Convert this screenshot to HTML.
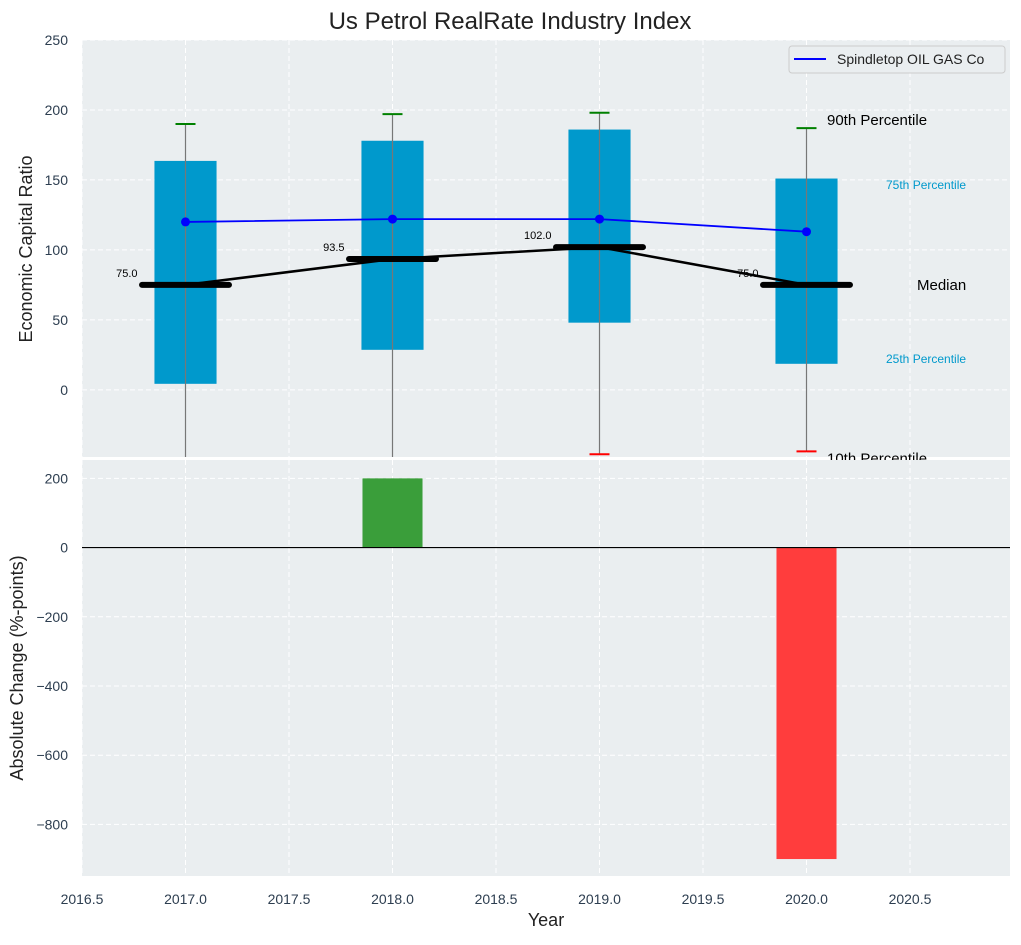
<!DOCTYPE html>
<html><head><meta charset="utf-8"><style>
body{margin:0;background:#fff;font-family:"Liberation Sans",Arial,sans-serif}
svg text{font-family:"Liberation Sans",Arial,sans-serif}
</style></head><body>
<svg id="chart" width="1021" height="940" xmlns="http://www.w3.org/2000/svg"></svg>
<script>
const years=[2017,2018,2019,2020];
const p10=[-60,-60,-46,-44];
const p25=[4.3,28.6,48,18.6];
const p50=[75,93.5,102,75];
const p75=[163.6,178,186,151];
const p90=[190,197,198,187];
const company=[120,122,122,113];
const changeYears=[2018,2020];
const changes=[200,-900];
const xTicks=[2016.5,2017,2017.5,2018,2018.5,2019,2019.5,2020,2020.5];
const topTicks=[0,50,100,150,200,250];
const botTicks=[-800,-600,-400,-200,0,200];

const NS="http://www.w3.org/2000/svg";
const svg=document.getElementById('chart');
const L=82,R=1010,T1=40,B1=457,T2=460,B2=876;
const X0=2016.5,X1=2016.5+(R-L)/207;
const x=v=>L+(v-X0)/(X1-X0)*(R-L);
const yT=v=>T1+(250-v)/(250+48)*(B1-T1);
const yB=v=>T2+(253-v)/(253+949)*(B2-T2);
function el(tag,attrs,parent,text){const e=document.createElementNS(NS,tag);for(const k in attrs)e.setAttribute(k,attrs[k]);if(text!==undefined)e.textContent=text;(parent||svg).appendChild(e);return e;}
const defs=el('defs',{});
const c1=el('clipPath',{id:'c1'},defs);el('rect',{x:L,y:T1,width:R-L,height:B1-T1},c1);
const c2=el('clipPath',{id:'c2'},defs);el('rect',{x:L,y:T2,width:R-L,height:B2-T2},c2);

const t=el('text',{x:510,y:29,'text-anchor':'middle','font-size':24,fill:'#222'},svg,'Us Petrol RealRate Industry Index');


const bg1=el('rect',{x:L,y:T1,width:R-L,height:B1-T1,fill:'#eaeef0'});

const g1=el('g',{'clip-path':'url(#c1)'});

xTicks.forEach(v=>el('line',{x1:x(v),x2:x(v),y1:T1,y2:B1,stroke:'#fff','stroke-dasharray':'5,3','stroke-width':1},g1));
topTicks.forEach(v=>{el('line',{x1:L,x2:R,y1:yT(v),y2:yT(v),stroke:'#fff','stroke-dasharray':'5,3'},g1);
 const lb=el('text',{x:L-14,y:yT(v)+5,'text-anchor':'end','font-size':14,fill:'#2d3e50'},svg,v);
 });
years.forEach((yr,i)=>{
 const w=0.3;
 const b=el('rect',{x:x(yr-w/2),y:yT(p75[i]),width:x(yr+w/2)-x(yr-w/2),height:yT(p25[i])-yT(p75[i]),fill:'#0099cc'},g1);
 
 el('line',{x1:x(yr),x2:x(yr),y1:yT(p90[i]),y2:yT(p10[i]),stroke:'#777','stroke-width':1.2},g1);
 const c90=el('line',{x1:x(yr)-10,x2:x(yr)+10,y1:yT(p90[i]),y2:yT(p90[i]),stroke:'green','stroke-width':2},g1);
 
 const c10=el('line',{x1:x(yr)-10,x2:x(yr)+10,y1:yT(p10[i]),y2:yT(p10[i]),stroke:'red','stroke-width':2},g1);
 
});
el('polyline',{points:years.map((yr,i)=>x(yr)+','+yT(p50[i])).join(' '),fill:'none',stroke:'#000','stroke-width':2.5},g1);
years.forEach((yr,i)=>{
 const m=el('line',{x1:x(yr-0.21),x2:x(yr+0.21),y1:yT(p50[i]),y2:yT(p50[i]),stroke:'#000','stroke-width':6,'stroke-linecap':'round'},g1);
 
 const lb=el('text',{x:x(yr)-48,y:yT(p50[i])-8,'text-anchor':'end','font-size':11,fill:'#000'},g1,p50[i].toFixed(1));
 
});
const cl=el('polyline',{points:years.map((yr,i)=>x(yr)+','+yT(company[i])).join(' '),fill:'none',stroke:'blue','stroke-width':1.8},g1);

years.forEach((yr,i)=>{const d=el('circle',{cx:x(yr),cy:yT(company[i]),r:4.5,fill:'blue'},g1);
 });
const last=years.length-1;
[[p90[last]+6,'90th Percentile',827,15,'#000'],[p75[last]-4,'75th Percentile',886,12,'#0099cc'],[p50[last],'Median',917,15,'#000'],[p25[last]+4,'25th Percentile',886,12,'#0099cc'],[p10[last]-5,'10th Percentile',827,15,'#000']].forEach(a=>{
 const tx=el('text',{x:a[2],y:yT(a[0])+5,'font-size':a[3],fill:a[4]},svg,a[1]);
 });
const lg=el('g',{});
el('rect',{x:789,y:46,width:216,height:27,rx:3,fill:'#eaeef0',stroke:'#ccc'},lg);
el('line',{x1:794,x2:826,y1:59,y2:59,stroke:'blue','stroke-width':2},lg);
el('text',{x:837,y:64,'font-size':14,fill:'#222'},lg,'Spindletop OIL GAS Co');
const yl=el('text',{x:0,y:0,'font-size':18,fill:'#222','text-anchor':'middle',transform:'translate(32,249) rotate(-90)'},svg,'Economic Capital Ratio');


const bg2=el('rect',{x:L,y:T2,width:R-L,height:B2-T2,fill:'#eaeef0'});

const g2=el('g',{'clip-path':'url(#c2)'});

xTicks.forEach(v=>{el('line',{x1:x(v),x2:x(v),y1:T2,y2:B2,stroke:'#fff','stroke-dasharray':'5,3'},g2);
 const lb=el('text',{x:x(v),y:B2+28,'text-anchor':'middle','font-size':14,fill:'#2d3e50'},svg,v.toFixed(1));
 });
botTicks.forEach(v=>{el('line',{x1:L,x2:R,y1:yB(v),y2:yB(v),stroke:'#fff','stroke-dasharray':'5,3'},g2);
 const lb=el('text',{x:L-14,y:yB(v)+5,'text-anchor':'end','font-size':14,fill:'#2d3e50'},svg,String(v).replace('-','\u2212'));
 });
changeYears.forEach((yr,i)=>{const v=changes[i];
 const b=el('rect',{x:x(yr-0.145),y:yB(Math.max(v,0)),width:x(yr+0.145)-x(yr-0.145),height:Math.abs(yB(v)-yB(0)),fill:v>=0?'#3a9e3a':'#ff3d3d'},g2);
 });
el('line',{x1:L,x2:R,y1:yB(0),y2:yB(0),stroke:'#000','stroke-width':1.2},g2);
const yl2=el('text',{x:0,y:0,'font-size':18,fill:'#222','text-anchor':'middle',transform:'translate(23,668) rotate(-90)'},svg,'Absolute Change (%-points)');

const xl=el('text',{x:546,y:926,'font-size':18,fill:'#222','text-anchor':'middle'},svg,'Year');

</script>
</body></html>
